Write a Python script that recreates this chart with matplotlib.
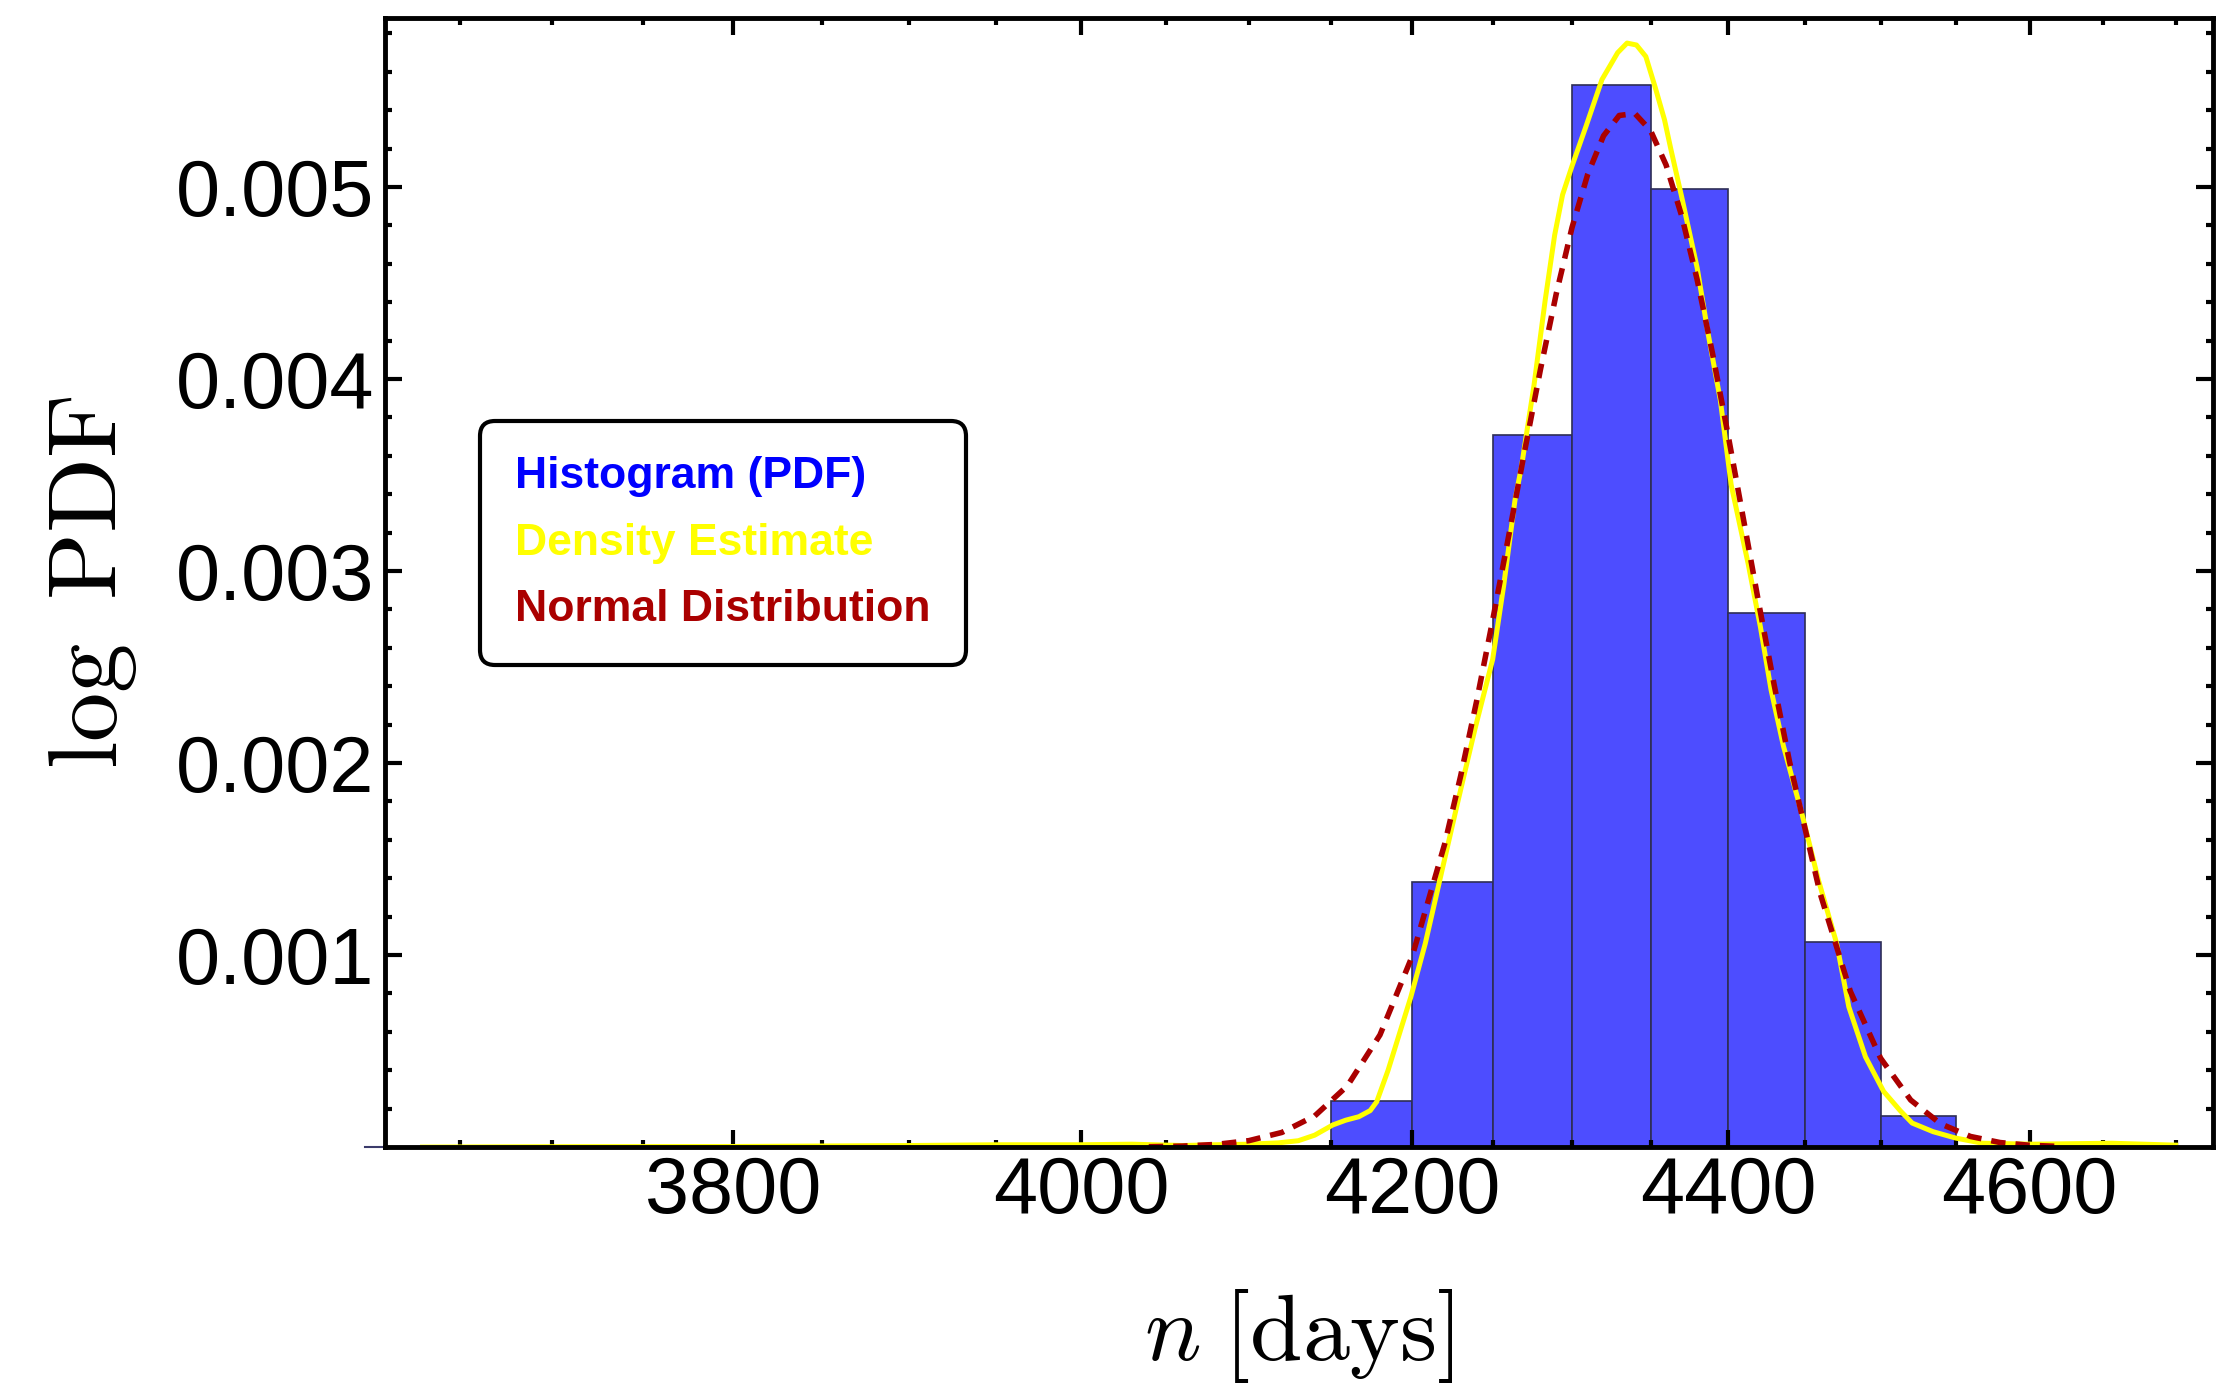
import numpy as np
import matplotlib
matplotlib.use("Agg")
import matplotlib.pyplot as plt
from matplotlib.ticker import NullFormatter
from matplotlib.lines import Line2D

plt.rcParams['font.family'] = ['Liberation Sans', 'DejaVu Sans']
plt.rcParams['mathtext.fontset'] = 'cm'

# histogram (PDF), bins of 50 days
bin_edges = [4150, 4200, 4250, 4300, 4350, 4400, 4450, 4500, 4550]
hist_pdf = [0.00024, 0.00138, 0.00371, 0.00553, 0.00499, 0.00278, 0.00107, 0.00016]

# smooth density estimate
kde_x = [3630, 3700, 3800, 3900, 3950, 4000, 4030, 4060, 4080, 4100,
         4118, 4130, 4140, 4151, 4159, 4167, 4174, 4178, 4185, 4199,
         4208, 4217, 4228, 4239, 4250, 4257, 4264, 4268, 4276, 4283,
         4289, 4294, 4300, 4309, 4319, 4324, 4329, 4335, 4341, 4347,
         4353, 4359, 4363, 4370, 4380, 4387, 4395, 4402, 4413, 4421,
         4428, 4436, 4448, 4459, 4471, 4479, 4490, 4502, 4513, 4521,
         4535, 4550, 4568, 4602, 4656, 4700]
kde_y = [0.0, 0.000002, 0.000003, 0.000008, 0.000012, 0.000012, 0.000015, 0.000008, 0.000012, 0.000015,
         0.000022, 0.000033, 0.000062, 0.000115, 0.00014, 0.000158, 0.00019, 0.000236, 0.00040, 0.00078,
         0.00106, 0.00139, 0.00179, 0.00218, 0.00254, 0.00293, 0.00337, 0.00354, 0.00397, 0.00441,
         0.00475, 0.00496, 0.00511, 0.00532, 0.00556, 0.00563, 0.00570, 0.00575, 0.00574, 0.00568,
         0.00552, 0.00535, 0.00520, 0.00495, 0.00458, 0.00424, 0.00389, 0.00345, 0.00304, 0.00271,
         0.00238, 0.00209, 0.00174, 0.00139, 0.00106, 0.00073, 0.00047, 0.00029, 0.00019, 0.000125,
         0.00008, 0.000047, 0.00002, 0.000015, 0.00002, 0.00001]

# normal distribution curve
norm_x = [4040, 4060, 4080, 4100, 4120, 4140, 4160, 4180, 4200, 4220,
          4230, 4240, 4250, 4260, 4270, 4280, 4290, 4300, 4310, 4320,
          4330, 4340, 4350, 4360, 4370, 4380, 4390, 4400, 4410, 4420,
          4430, 4440, 4460, 4480, 4500, 4520, 4540, 4560, 4580, 4600, 4620]
norm_y = [0.0000018, 0.0000051, 0.0000136, 0.0000333, 0.0000761, 0.000162, 0.000319, 0.000584, 0.000996, 0.001577,
          0.001933, 0.002324, 0.002744, 0.003181, 0.003622, 0.004049, 0.004444, 0.004790, 0.005068, 0.005267,
          0.005373, 0.005383, 0.005295, 0.005115, 0.004851, 0.004518, 0.004131, 0.003709, 0.003270, 0.002830,
          0.002407, 0.002008, 0.001324, 0.000811, 0.000463, 0.000245, 0.000121, 0.0000552, 0.0000235, 0.0000093, 0.0000034]

x_major = [3800, 4000, 4200, 4400, 4600]
x_minor = [3650, 3700, 3750, 3850, 3900, 3950, 4050, 4100, 4150, 4250,
           4300, 4350, 4450, 4500, 4550, 4650, 4700]
y_major = [0.001, 0.002, 0.003, 0.004, 0.005]
y_major_labels = ['0.001', '0.002', '0.003', '0.004', '0.005']
y_minor = [0.0002, 0.0004, 0.0006, 0.0008, 0.0012, 0.0014, 0.0016, 0.0018,
           0.0022, 0.0024, 0.0026, 0.0028, 0.0032, 0.0034, 0.0036, 0.0038,
           0.0042, 0.0044, 0.0046, 0.0048, 0.0052, 0.0054, 0.0056, 0.0058]

legend_labels = ['Histogram (PDF)', 'Density Estimate', 'Normal Distribution']
legend_colors = ['#0000ff', '#ffff00', '#aa0000']

fig = plt.figure(figsize=(22.18, 13.83), dpi=100)
ax = fig.add_axes([0.1736, 0.1706, 0.8242, 0.8163])

ax.bar(bin_edges[:-1], hist_pdf, width=np.diff(bin_edges), align='edge',
       color='#4d4dff', edgecolor='#2e2e55', linewidth=1.2, zorder=1)
ax.plot(kde_x, kde_y, color='#ffff00', lw=3.6, zorder=2)
ax.plot(norm_x, norm_y, color='#aa0000', lw=4.0, linestyle=(0, (2.6, 1.8)), zorder=2.2)

ax.set_xscale('log')
ax.set_xlim(3610, 4726)
ax.set_ylim(0, 0.00588)

ax.set_xticks(x_major)
ax.set_xticklabels([str(v) for v in x_major])
ax.set_xticks(x_minor, minor=True)
ax.xaxis.set_minor_formatter(NullFormatter())
ax.set_yticks(y_major)
ax.set_yticklabels(y_major_labels)
ax.set_yticks(y_minor, minor=True)

ax.tick_params(which='both', direction='in', top=True, right=True, width=3, color='black')
ax.tick_params(which='major', length=12, labelsize=57)
ax.tick_params(axis='x', which='major', pad=6)
ax.tick_params(axis='y', which='major', pad=8)
ax.tick_params(which='minor', length=5)
for sp in ax.spines.values():
    sp.set_linewidth(3.5)

# short stub left of the origin
ax.axhline(0, xmin=-0.011, xmax=0, color='#3b3b6b', lw=1.5, clip_on=False)

ax.set_ylabel(r'$\log\ \mathrm{PDF}$', fontsize=71)
ax.yaxis.set_label_coords(-0.1346, 0.5)
ax.set_xlabel(r'$n\;[\mathrm{days}]$', fontsize=68)
ax.xaxis.set_label_coords(0.5, -0.124)

handles = [Line2D([], [], linestyle='none') for _ in legend_labels]
leg = ax.legend(handles, legend_labels, loc='upper left', bbox_to_anchor=(0.052, 0.643),
                borderaxespad=0, handlelength=0, handletextpad=0,
                prop={'weight': 'bold', 'size': 32}, labelspacing=0.57, borderpad=0.79,
                fancybox=True, framealpha=1, edgecolor='black')
leg.get_frame().set_linewidth(3.0)
leg.get_frame().set_boxstyle('round', pad=0, rounding_size=0.34)
for txt, c in zip(leg.get_texts(), legend_colors):
    txt.set_color(c)

fig.savefig('out.png', dpi=100)
